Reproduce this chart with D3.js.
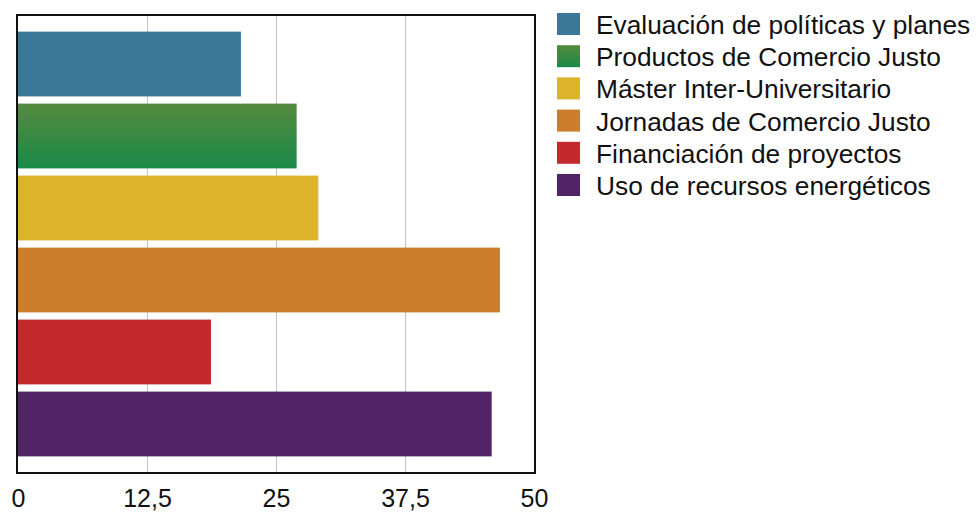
<!DOCTYPE html>
<html><head><meta charset="utf-8">
<script src="https://cdn.jsdelivr.net/npm/d3@7"></script>
<style>body{margin:0;background:#fff}svg{display:block}text{font-family:"Liberation Sans",Arial,Helvetica,sans-serif}</style>
</head><body>
<svg id="c" width="977" height="512"></svg>
<script>
const categories = ["Evaluación de políticas y planes","Productos de Comercio Justo","Máster Inter-Universitario","Jornadas de Comercio Justo","Financiación de proyectos","Uso de recursos energéticos"];
const values = [21.6, 27.0, 29.1, 46.7, 18.7, 45.9];
const colors = ["#3a789a","url(#gGreen)","#dcb42a","#cb7e2c","#c4292e","#512467"];
const tickValues = [0, 12.5, 25, 37.5, 50];
const tickLabels = ["0","12,5","25","37,5","50"];

const svg = d3.select("#c");
const defs = svg.append("defs");
const gr = defs.append("linearGradient").attr("id","gGreen").attr("x1",0).attr("y1",0).attr("x2",0).attr("y2",1);
gr.append("stop").attr("offset","0%").attr("stop-color","#558a3f");
gr.append("stop").attr("offset","100%").attr("stop-color","#198a48");

const L = 17, R = 535, T = 15, B = 473;
const x = d3.scaleLinear().domain([0,50]).range([L+1, R-1]);
const y = d3.scaleBand().domain(categories).range([T+1, B-1]).paddingInner(0.1).paddingOuter(0.217);

// grid
svg.append("g").selectAll("line").data(tickValues.slice(1,-1)).join("line")
  .attr("x1",d=>Math.round(x(d))+0.5).attr("x2",d=>Math.round(x(d))+0.5)
  .attr("y1",T).attr("y2",B).attr("stroke","#c8c8c8").attr("stroke-width",1.2);

// bars
svg.append("g").selectAll("rect").data(categories).join("rect")
  .attr("x",x(0)).attr("y",d=>y(d))
  .attr("width",(d,i)=>x(values[i])-x(0)).attr("height",y.bandwidth())
  .attr("fill",(d,i)=>colors[i]);

// frame
svg.append("rect").attr("x",L).attr("y",T).attr("width",R-L).attr("height",B-T)
  .attr("fill","none").attr("stroke","#111").attr("stroke-width",2);

// axis labels
const ax = svg.append("g").attr("transform",`translate(0,${B})`)
  .call(d3.axisBottom(x).tickValues(tickValues).tickFormat((d,i)=>tickLabels[i]).tickSize(0).tickPadding(0));
ax.select(".domain").remove();
ax.selectAll("text").attr("font-size",25).attr("fill","#111").attr("dy",null).attr("y",34)
  .attr("font-family","'Liberation Sans',Arial,sans-serif");

// legend
const lg = svg.append("g").attr("transform","translate(557,13)");
const items = lg.selectAll("g").data(categories).join("g").attr("transform",(d,i)=>`translate(0,${i*32.2})`);
items.append("rect").attr("width",23).attr("height",22).attr("fill",(d,i)=>colors[i]);
items.append("text").attr("x",39).attr("y",21).attr("font-size",26.3).attr("fill","#111").text(d=>d);
</script>
</body></html>
